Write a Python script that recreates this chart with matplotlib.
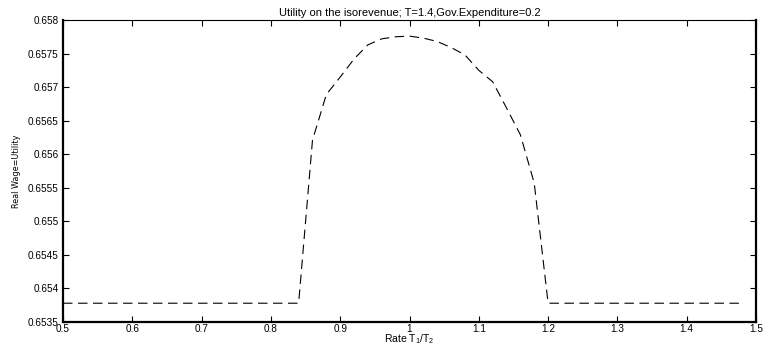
import matplotlib.pyplot as plt
from matplotlib.ticker import FuncFormatter

plt.rcParams['font.family'] = ['Liberation Sans', 'DejaVu Sans']
plt.rcParams['mathtext.fontset'] = 'custom'
plt.rcParams['mathtext.rm'] = 'Liberation Sans'
plt.rcParams['mathtext.it'] = 'Liberation Sans'

# rate T1/T2 and utility
rate = [0.50, 0.84, 0.86, 0.88, 0.90, 0.92, 0.94, 0.96, 0.98, 1.00, 1.02,
        1.04, 1.06, 1.08, 1.10, 1.12, 1.14, 1.16, 1.18, 1.20, 1.48]
utility = [0.65378, 0.65378, 0.65621, 0.65689, 0.65715, 0.65742, 0.65763,
           0.65772, 0.65775, 0.65776, 0.65773, 0.65768, 0.65759, 0.65748,
           0.65725, 0.65708, 0.65669, 0.65629, 0.65557, 0.65378, 0.65378]

xticks = [0.5, 0.6, 0.7, 0.8, 0.9, 1.0, 1.1, 1.2, 1.3, 1.4, 1.5]
yticks = [0.6535, 0.654, 0.6545, 0.655, 0.6555, 0.656, 0.6565, 0.657, 0.6575, 0.658]

fig = plt.figure(figsize=(7.64, 3.48), dpi=100)
ax = fig.add_axes([0.0825, 0.0747, 0.907, 0.8678])

ax.plot(rate, utility, color='black', lw=0.8, linestyle=(0, (8.5, 5)))

ax.set_xlim(0.5, 1.5)
ax.set_ylim(0.6535, 0.658)
ax.set_xticks(xticks)
ax.set_yticks(yticks)
ax.xaxis.set_major_formatter(FuncFormatter(lambda v, p: '%g' % round(v, 4)))
ax.yaxis.set_major_formatter(FuncFormatter(lambda v, p: '%g' % round(v, 5)))
ax.tick_params(direction='in', length=4, width=0.8, labelsize=7.2,
               top=True, right=True)
ax.tick_params(axis='x', pad=1.5)
ax.tick_params(axis='y', pad=3)

for s in ['left', 'bottom', 'right']:
    ax.spines[s].set_linewidth(1.6)
ax.spines['top'].set_linewidth(0.8)

ax.set_title('Utility on the isorevenue; T=1.4,Gov.Expenditure=0.2', fontsize=8, pad=3)
ax.set_xlabel('Rate T$_1$/T$_2$', fontsize=7.5, labelpad=-1)
ax.set_ylabel('Real Wage=Utility', fontsize=6.5, labelpad=5,
              family='DejaVu Sans', fontstretch='condensed')

fig.savefig('out.png', dpi=100)
